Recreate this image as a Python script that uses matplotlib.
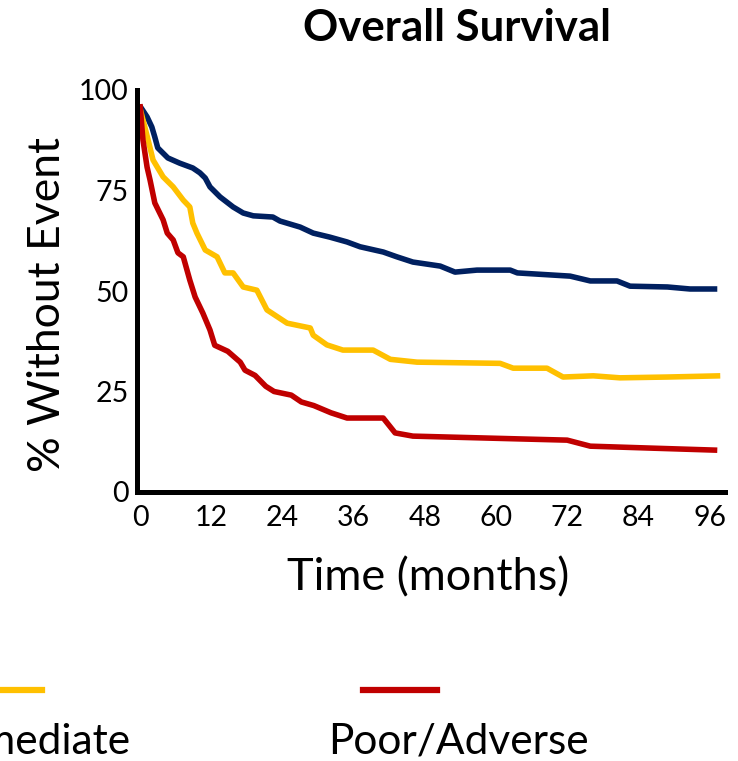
import matplotlib
matplotlib.use("Agg")
import matplotlib.pyplot as plt
from matplotlib.lines import Line2D

plt.rcParams["font.family"] = ["Lato", "DejaVu Sans"]

# Kaplan-Meier style curves (months, % without event)
fav_t = [0, 1.2, 2.0, 2.5, 3.0, 4.7, 6.7, 8.9, 10.1, 11.0, 11.8, 13.5, 15.7, 17.4, 19.1, 22.4,
         23.6, 27.0, 29.2, 32.0, 34.9, 37.1, 41.0, 43.3, 46.0, 50.6, 53.1, 56.8, 62.4, 63.6,
         72.5, 75.9, 80.4, 82.6, 88.9, 92.7, 97.3]
fav_v = [96, 93.3, 90.8, 88.3, 85.6, 83.1, 81.8, 80.6, 79.4, 78.1, 75.9, 73.4, 70.9, 69.4, 68.7, 68.4,
         67.4, 65.9, 64.4, 63.4, 62.2, 61.0, 59.7, 58.5, 57.2, 56.2, 54.7, 55.2, 55.2, 54.5,
         53.7, 52.5, 52.5, 51.2, 51.0, 50.5, 50.5]

int_t = [0, 1.3, 2.2, 3.9, 5.6, 7.3, 8.4, 8.9, 9.6, 11.0, 13.0, 14.3, 15.7, 17.4, 19.7, 21.4,
         24.8, 28.7, 29.2, 31.5, 34.2, 39.3, 42.2, 46.7, 60.7, 62.9, 68.6, 71.3, 76.4, 80.9,
         88.9, 97.8]
int_v = [95.5, 88, 82.6, 78.4, 75.9, 72.6, 70.9, 66.9, 64.4, 60.2, 58.5, 54.5, 54.5, 51.0, 50.2, 45.3,
         42.0, 40.8, 39.0, 36.6, 35.3, 35.3, 33.0, 32.3, 32.0, 30.8, 30.8, 28.6, 28.9, 28.4,
         28.6, 28.9]

poor_t = [0, 0.5, 1.2, 1.7, 2.5, 3.9, 4.6, 5.6, 6.4, 7.3, 8.4, 9.3, 10.6, 11.8, 12.6, 14.8,
          16.9, 17.7, 19.4, 21.2, 22.6, 25.5, 27.2, 29.3, 32.2, 34.9, 41.0, 43.0, 46.0, 64.1,
          72.0, 75.9, 86.5, 97.3]
poor_v = [96.5, 87.6, 80.8, 77.6, 71.9, 67.7, 64.4, 62.7, 59.5, 58.5, 52.7, 48.5, 44.5, 40.3, 36.5, 35.0,
          32.3, 30.3, 29.0, 26.3, 25.0, 24.1, 22.4, 21.5, 19.7, 18.4, 18.4, 14.7, 13.9, 13.2,
          12.9, 11.4, 10.9, 10.4]

x_ticks = [0, 12, 24, 36, 48, 60, 72, 84, 96]
y_ticks = [0, 25, 50, 75, 100]

navy = "#002060"
yellow = "#FFC000"
red = "#C00000"

W, H = 738, 761
fig = plt.figure(figsize=(W / 100, H / 100), dpi=100)
ax = fig.add_axes([137 / W, 269 / H, 588 / W, 402 / H])

lw = 4
ax.plot(fav_t, fav_v, color=navy, linewidth=lw, solid_joinstyle="round", solid_capstyle="butt")
ax.plot(int_t, int_v, color=yellow, linewidth=lw, solid_joinstyle="round", solid_capstyle="butt")
ax.plot(poor_t, poor_v, color=red, linewidth=lw, solid_joinstyle="round", solid_capstyle="butt")

ax.set_xlim(-0.5, 98.6)
ax.set_ylim(0, 100)
ax.set_xticks(x_ticks)
ax.set_yticks(y_ticks)
ax.tick_params(length=0, labelsize=20.5)
ax.tick_params(axis="x", pad=9)
ax.tick_params(axis="y", pad=6)
for s in ["top", "right"]:
    ax.spines[s].set_visible(False)
for s in ["left", "bottom"]:
    ax.spines[s].set_linewidth(3.6)
    ax.spines[s].set_color("black")

ax.set_xlabel("Time (months)", fontsize=32.5)
ax.set_ylabel("% Without Event", fontsize=32)
ax.xaxis.set_label_coords((428 - 137) / 588, (183 - 269) / 402)
ax.yaxis.set_label_coords((48 - 137) / 588, (456 - 269) / 402)
ax.xaxis.label.set_va("center")
ax.yaxis.label.set_va("center")

fig.text(457 / W, 1 - 28 / H, "Overall Survival", fontsize=31.5, fontweight="bold",
         ha="center", va="center")

# legend below the chart (partly cut at the left edge, as in the source)
ly = 1 - 690 / H
fig.add_artist(Line2D([-40 / W, 42 / W], [ly, ly], color=yellow, linewidth=4.5))
fig.add_artist(Line2D([363 / W, 437 / W], [ly, ly], color=red, linewidth=4.5))
fig.text(130 / W, 1 - 742 / H, "Intermediate", fontsize=30.5, ha="right", va="center")
fig.text(328 / W, 1 - 742 / H, "Poor/Adverse", fontsize=30.5, ha="left", va="center")

fig.savefig("out.png", dpi=100)
